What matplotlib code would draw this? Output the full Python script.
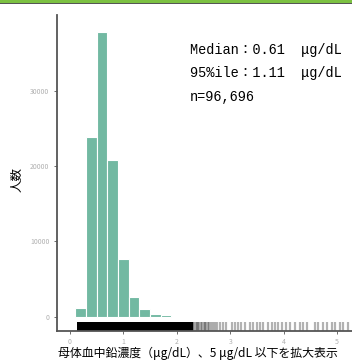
import matplotlib.pyplot as plt
import matplotlib.transforms as mtransforms
from matplotlib.patches import Rectangle

plt.rcParams['font.family'] = ['Noto Sans CJK JP', 'DejaVu Sans']

# histogram bins (centers, ug/dL) and counts
bin_centers = [0.2, 0.4, 0.6, 0.8, 1.0, 1.2, 1.4, 1.6, 1.8]
counts = [1200, 23900, 37900, 20800, 7600, 2600, 1000, 400, 150]
bin_width = 0.2

# rug: dense range plus the sparse individual values above it
rug_dense = (0.14, 2.3)
rug_values = [2.31, 2.33, 2.35, 2.37, 2.40, 2.42, 2.45, 2.47, 2.50, 2.53,
              2.55, 2.58, 2.60, 2.64, 2.68, 2.72, 2.76, 2.80,
              2.87, 2.93, 3.03, 3.09, 3.15, 3.21, 3.28, 3.37, 3.43, 3.50, 3.56,
              3.62, 3.71, 3.78, 3.84, 3.90, 3.96, 4.04, 4.12, 4.21, 4.31, 4.37,
              4.43, 4.59, 4.65, 4.74, 4.81, 4.90, 4.96, 5.06, 5.12, 5.21]

yticks = [0, 10000, 20000, 30000]
xticks = [0, 1, 2, 3, 4, 5]
stats_lines = ['Median：0.61  μg/dL', '95%ile：1.11  μg/dL', 'n=96,696']

fig = plt.figure(figsize=(3.52, 3.6), dpi=100)
ax = fig.add_axes([0.162, 0.081, 0.838, 0.877])

ax.bar(bin_centers, counts, width=bin_width, color='#72b9a2',
       edgecolor='white', linewidth=0.8)

# rug along the bottom of the panel
trans = mtransforms.blended_transform_factory(ax.transData, ax.transAxes)
ax.add_patch(Rectangle((rug_dense[0], 0), rug_dense[1] - rug_dense[0], 0.028,
                       transform=trans, color='black', lw=0))
ax.vlines(rug_values, 0, 0.028, transform=trans, color='black',
          alpha=0.3, lw=1.6)

ax.set_xlim(-0.243, 5.28)
ax.set_ylim(-1900, 40100)
ax.set_xticks(xticks)
ax.set_yticks(yticks)
ax.tick_params(labelsize=5, labelcolor='#b0b0b0', color='#555555',
               length=2, width=0.6)

for s in ['top', 'right']:
    ax.spines[s].set_visible(False)
for s in ['left', 'bottom']:
    ax.spines[s].set_color('#555555')
    ax.spines[s].set_linewidth(1.3)

fig.text(0.048, 0.5, '人数', rotation=90, ha='center', va='center', fontsize=9)
fig.text(0.562, 0.018, '母体血中鉛濃度（μg/dL）、5 μg/dL 以下を拡大表示',
         ha='center', va='center', fontsize=8.6)

for i, line in enumerate(stats_lines):
    fig.text(0.54, 1 - (50 + 23.5 * i) / 360, line, ha='left', va='center',
             fontsize=9.8, family=['Liberation Mono', 'Noto Sans CJK JP'])

# header stripe
fig.add_artist(Rectangle((0, 1 - 3 / 360), 1, 3 / 360, transform=fig.transFigure,
                         color='#7cc142', lw=0))
fig.add_artist(Rectangle((0, 1 - 4.2 / 360), 1, 1.2 / 360, transform=fig.transFigure,
                         color='#555555', lw=0))

fig.savefig('out.png', dpi=100)
